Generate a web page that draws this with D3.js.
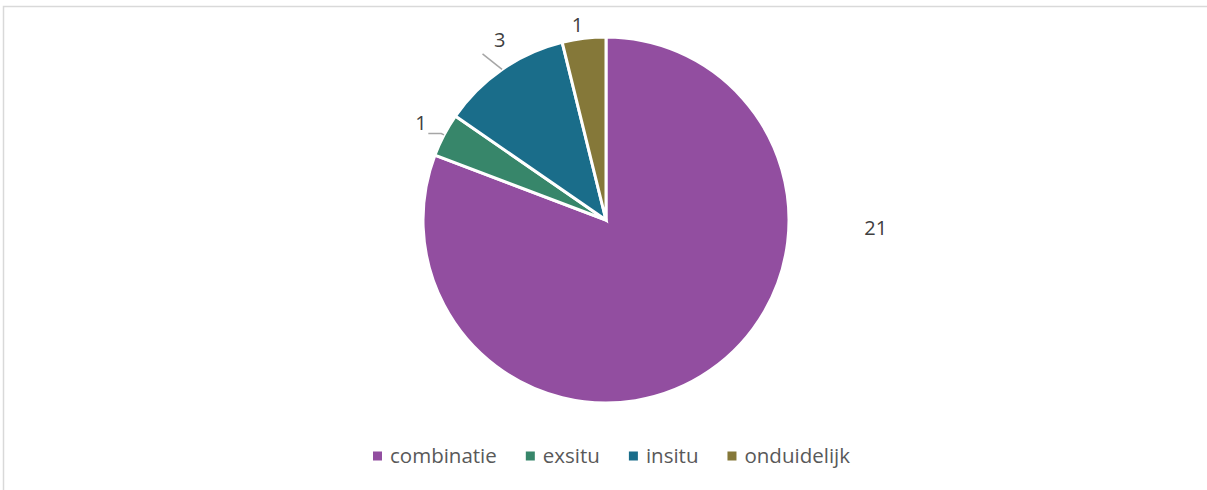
<!DOCTYPE html>
<html><head><meta charset="utf-8">
<script src="https://cdn.jsdelivr.net/npm/d3@7"></script>
<style>
html,body{margin:0;padding:0;background:#fff;}
svg{display:block;font-family:"Open Sans",sans-serif;}
</style></head>
<body>
<svg id="c" width="1207" height="490"></svg>
<script>
const categories = ["combinatie", "exsitu", "insitu", "onduidelijk"];
const values = [21, 1, 3, 1];
const colors = ["#924EA0", "#37866A", "#1A6D8A", "#857839"];

const W = 1207, H = 490;
const cx = 606, cy = 220, R = 183;
const svg = d3.select("#c");

// chart border
svg.append("rect").attr("x", 3.5).attr("y", 6.5).attr("width", W + 10).attr("height", H + 10)
  .attr("fill", "none").attr("stroke", "#d9d9d9").attr("stroke-width", 1.5);

const data = categories.map((c, i) => ({ cat: c, value: values[i], color: colors[i] }));
const pie = d3.pie().value(d => d.value).sort(null);
const arcs = pie(data);
const arc = d3.arc().innerRadius(0).outerRadius(R);

const g = svg.append("g").attr("transform", `translate(${cx},${cy})`);
g.selectAll("path.slice").data(arcs).enter().append("path")
  .attr("class", "slice")
  .attr("d", arc)
  .attr("fill", d => d.data.color)
  .attr("stroke", "#fff").attr("stroke-width", 3).attr("stroke-linejoin", "miter");

const maxV = d3.max(values);
function pt(a, r) { return [Math.sin(a) * r, -Math.cos(a) * r]; }

arcs.forEach((d, i) => {
  const mid = (d.startAngle + d.endAngle) / 2;
  let lx, ly;
  if (d.data.value === maxV) {
    // best-fit placement on the right side for the large slice
    [lx, ly] = pt(Math.PI / 2 + 0.03, R * 1.475);
  } else {
    const lr = i === 3 ? R + 14 : R + 26;
    const off = i === 3 ? 0.025 : (i === 2 ? -0.07 : 0);
    [lx, ly] = pt(mid - off, lr);
    // leader lines
    if (i === 1) {
      const p0 = pt(mid, R), p1 = pt(mid, R + 3);
      g.append("polyline").attr("points", [p0, p1, [p1[0] - 13, p1[1]]].map(p => p.join(",")).join(" "))
        .attr("fill", "none").attr("stroke", "#a6a6a6").attr("stroke-width", 1.5);
    } else if (i === 2) {
      const p0 = pt(mid, R), p1 = pt(mid - 0.035, R + 24);
      g.append("line").attr("x1", p0[0]).attr("y1", p0[1]).attr("x2", p1[0]).attr("y2", p1[1])
        .attr("stroke", "#a6a6a6").attr("stroke-width", 1.5);
    }
  }
  g.append("text").attr("x", lx).attr("y", ly).attr("dy", "0.35em")
    .attr("text-anchor", "middle").attr("font-size", 20).attr("fill", "#404040")
    .text(d.data.value);
});

// legend
const legendX = [373, 527, 627, 727];
const lg = svg.append("g").attr("transform", "translate(0,456)");
const items = lg.selectAll("g").data(data).enter().append("g");
let x = 373;
items.each(function (d, i) {
  const it = d3.select(this).attr("transform", `translate(${x},0)`);
  it.append("rect").attr("x", 0).attr("y", -4.5).attr("width", 9).attr("height", 9).attr("fill", d.color);
  const t = it.append("text").attr("x", 17).attr("dy", "0.35em").attr("font-size", 20.5)
    .attr("fill", "#595959").text(d.cat);
  x += 17 + t.node().getComputedTextLength() + 29;
});
</script>
</body></html>
